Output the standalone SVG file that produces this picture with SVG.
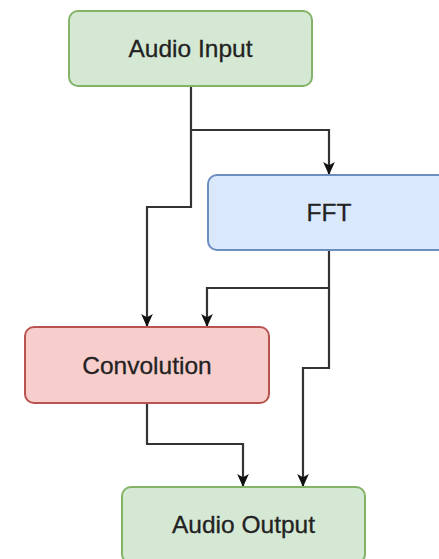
<svg xmlns="http://www.w3.org/2000/svg" width="439" height="559" viewBox="0 0 439 559">
  <style>
    .node rect { stroke-width: 2; }
    .green rect { fill: #d5e8d4; stroke: #82b366; }
    .blue rect { fill: #dae8fc; stroke: #6c8ebf; }
    .red rect { fill: #f8cecc; stroke: #b85450; }
    .node text { font-family: "Liberation Sans", Arial, sans-serif; font-size: 24.5px; fill: #222222; stroke: #222222; stroke-width: 0.3; text-anchor: middle; dominant-baseline: central; }
    .edge { fill: none; stroke: #333333; stroke-width: 2.2; marker-end: url(#arrow); }
  </style>
  <defs>
    <marker id="arrow" viewBox="0 0 10 10" refX="10" refY="5" markerWidth="13" markerHeight="13" markerUnits="userSpaceOnUse" orient="auto">
      <path d="M0,0.5 L10,5 L0,9.5 L2.5,5 z" fill="#111111"/>
    </marker>
  </defs>
  <rect width="439" height="559" fill="#ffffff"/>

  <g id="connectors">
    <path class="edge" d="M191,87 V130 H329 V175"/>
    <path class="edge" d="M191,130 V207 H147 V327"/>
    <path class="edge" d="M329,251 V288 H207 V327"/>
    <path class="edge" d="M329,288 V368 H303 V487"/>
    <path class="edge" d="M147,404 V444 H243 V487"/>
  </g>

  <g id="audio-input" class="node green">
    <rect x="69" y="11" width="243" height="75" rx="9"/>
    <text x="190.5" y="48.5">Audio Input</text>
  </g>
  <g id="fft" class="node blue">
    <rect x="208" y="175" width="245" height="75" rx="9"/>
    <text x="329" y="212.5">FFT</text>
  </g>
  <g id="convolution" class="node red">
    <rect x="25" y="327" width="244" height="76" rx="9"/>
    <text x="147" y="365">Convolution</text>
  </g>
  <g id="audio-output" class="node green">
    <rect x="122" y="487" width="243" height="76" rx="9"/>
    <text x="243.5" y="524.5">Audio Output</text>
  </g>
</svg>
